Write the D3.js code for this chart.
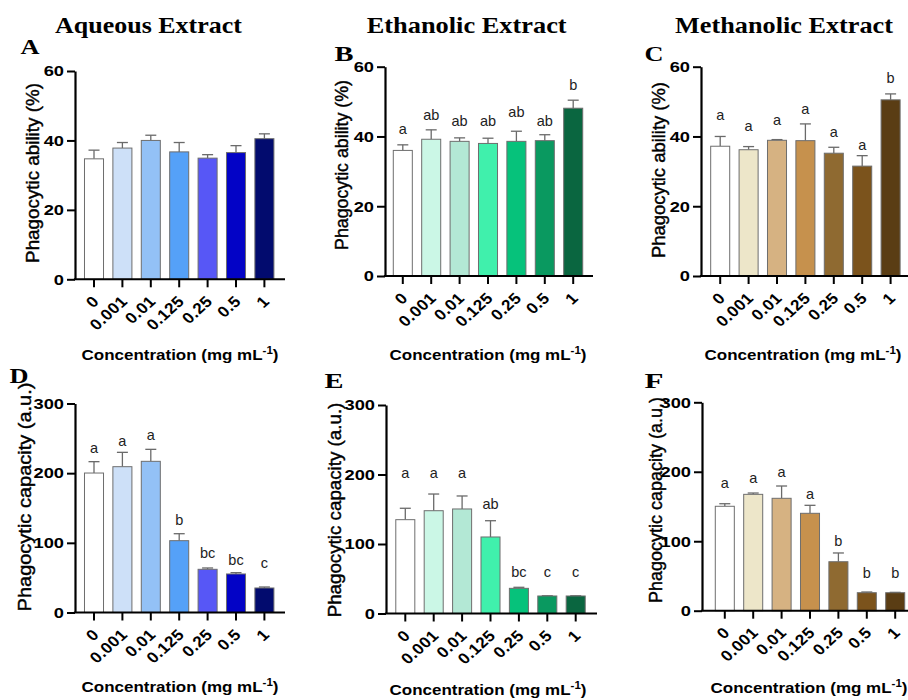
<!DOCTYPE html>
<html>
<head>
<meta charset="utf-8">
<script src="https://cdn.jsdelivr.net/npm/d3@7"></script>
<style>
  body { margin: 0; background: #fff; }
</style>
</head>
<body>
<script>
const concentrations = ["0", "0.001", "0.01", "0.125", "0.25", "0.5", "1"];

// phagocytic ability (%), mean and SEM
const abilityAqueous = [34.7, 37.8, 40.0, 36.7, 34.9, 36.5, 40.5];
const abilityAqueousErr = [2.5, 1.6, 1.5, 2.7, 1.0, 2.0, 1.4];
const abilityEthanolic = [36.0, 39.2, 38.6, 38.0, 38.6, 38.8, 48.1];
const abilityEthanolicErr = [1.6, 2.7, 1.0, 1.5, 2.9, 1.7, 2.3];
const abilityMethanolic = [37.2, 36.2, 38.9, 38.8, 35.2, 31.5, 50.5];
const abilityMethanolicErr = [2.8, 0.9, 0.2, 4.8, 1.7, 3.0, 1.7];

// phagocytic capacity (a.u.), mean and SEM
const capacityAqueous = [200.2, 209.3, 217.0, 103.1, 62.0, 55.3, 35.2];
const capacityAqueousErr = [16.3, 20.6, 17.2, 10.0, 1.9, 1.9, 1.4];
const capacityEthanolic = [135.0, 147.9, 150.4, 110.1, 36.2, 25.2, 25.2];
const capacityEthanolicErr = [16.4, 24.0, 18.7, 23.4, 1.5, 0.3, 0.3];
const capacityMethanolic = [150.3, 167.5, 161.8, 140.2, 70.5, 25.9, 25.9];
const capacityMethanolicErr = [3.7, 1.9, 17.7, 11.5, 12.6, 1.0, 0.5];

// significance letters, and the value each one is written at
const lettersB = ["a", "ab", "ab", "ab", "ab", "ab", "b"];
const lettersBAt = [42.3, 46.1, 44.5, 44.5, 47.0, 44.5, 54.7];
const lettersC = ["a", "a", "a", "a", "a", "a", "b"];
const lettersCAt = [46.3, 43.1, 44.6, 47.9, 41.2, 37.6, 56.7];
const lettersD = ["a", "a", "a", "b", "bc", "bc", "c"];
const lettersDAt = [235.7, 246.6, 255.2, 132.8, 85.0, 75.4, 70.6];
const lettersE = ["a", "a", "a", "ab", "bc", "c", "c"];
const lettersEAt = [202.6, 202.6, 202.6, 157.1, 59.3, 59.3, 59.3];
const lettersF = ["a", "a", "a", "a", "b", "b", "b"];
const lettersFAt = [183.4, 190.6, 200.1, 168.0, 100.8, 53.8, 53.8];

const abilityTicks = [0, 20, 40, 60];
const capacityTicks = [0, 100, 200, 300];

const blues = ["#ffffff", "#cde0f8", "#93c1f6", "#55a1f8", "#5757f6", "#0303c6", "#020b6e"];
const greens = ["#ffffff", "#cbf7e6", "#b3e8d5", "#40f0ac", "#06c27b", "#0a9960", "#0a6640"];
const browns = ["#ffffff", "#ede6c9", "#d6b282", "#c6914d", "#8f6a31", "#7b531c", "#5a3d14"];

const sans = "'Liberation Sans', Arial, sans-serif";
const serif = "'Liberation Serif', 'Times New Roman', serif";

const panels = [
  { tag: "A", tagX: 30, tagY: 54, vals: abilityAqueous, err: abilityAqueousErr, colors: blues,
    ymax: 60, ticks: abilityTicks, left: 75, top: 71, bottom: 279.3, off: 19, right: 285,
    ytitle: "Phagocytic ability (%)", ytX: 33, ytY: 173, ytLen: 180, cx: 180, cy: 360 },
  { tag: "B", tagX: 344, tagY: 61, vals: abilityEthanolic, err: abilityEthanolicErr, colors: greens,
    letters: lettersB, lettersAt: lettersBAt,
    ymax: 60, ticks: abilityTicks, left: 385, top: 66.7, bottom: 276, off: 17.8, right: 593,
    ytitle: "Phagocytic ability (%)", ytX: 341.5, ytY: 165, ytLen: 170, cx: 488, cy: 360 },
  { tag: "C", tagX: 654, tagY: 61, vals: abilityMethanolic, err: abilityMethanolicErr, colors: browns,
    letters: lettersC, lettersAt: lettersCAt,
    ymax: 60, ticks: abilityTicks, left: 701, top: 66.7, bottom: 276, off: 19.2, right: 908,
    ytitle: "Phagocytic ability (%)", ytX: 658.5, ytY: 170, ytLen: 176, cx: 803, cy: 360 },
  { tag: "D", tagX: 19, tagY: 383, vals: capacityAqueous, err: capacityAqueousErr, colors: blues,
    letters: lettersD, lettersAt: lettersDAt,
    ymax: 300, ticks: capacityTicks, left: 75, top: 403.5, bottom: 612.5, off: 19, right: 285,
    ytitle: "Phagocytic capacity (a.u.)", ytX: 25, ytY: 497, ytLen: 229, cx: 180, cy: 692 },
  { tag: "E", tagX: 334, tagY: 388, vals: capacityEthanolic, err: capacityEthanolicErr, colors: greens,
    letters: lettersE, lettersAt: lettersEAt,
    ymax: 300, ticks: capacityTicks, left: 386, top: 405, bottom: 613.5, off: 19.3, right: 597,
    ytitle: "Phagocytic capacity (a.u.)", ytX: 334.5, ytY: 510, ytLen: 215, cx: 488, cy: 695 },
  { tag: "F", tagX: 654, tagY: 388, vals: capacityMethanolic, err: capacityMethanolicErr, colors: browns,
    letters: lettersF, lettersAt: lettersFAt,
    ymax: 300, ticks: capacityTicks, left: 702, top: 402.3, bottom: 610.7, off: 22.8, right: 908,
    ytitle: "Phagocytic capacity (a.u.)", ytX: 656, ytY: 500, ytLen: 206, cx: 809, cy: 693 },
];

const columnTitles = [
  { text: "Aqueous Extract", x: 148.5, w: 187 },
  { text: "Ethanolic Extract", x: 466.7, w: 200 },
  { text: "Methanolic Extract", x: 784, w: 218 },
];

const svg = d3.select("body").append("svg")
  .attr("width", 908)
  .attr("height", 700)
  .style("background", "#fff");

// stretch a text horizontally (in its own frame) so it spans w pixels
const fitWidth = (sel, w) => {
  const len = sel.node().getComputedTextLength();
  sel.attr("transform", `scale(${w / len},1)`);
};

columnTitles.forEach((t) => {
  const g = svg.append("g").attr("transform", `translate(${t.x},33)`);
  const txt = g.append("text")
    .attr("text-anchor", "middle")
    .attr("font-family", serif)
    .attr("font-weight", "bold")
    .attr("font-size", 23)
    .attr("fill", "#000")
    .text(t.text);
  fitWidth(txt, t.w);
});

panels.forEach((p) => {
  const x = d3.scaleBand()
    .domain(concentrations)
    .range([p.left + p.off - 14.2, p.left + p.off - 14.2 + 7 * 28.4])
    .paddingInner(0.33)
    .paddingOuter(0.165);

  const y = d3.scaleLinear().domain([0, p.ymax]).range([p.bottom, p.top]);

  const rows = concentrations.map((c, i) => ({
    c, v: p.vals[i], e: p.err[i], color: p.colors[i],
    letter: p.letters ? p.letters[i] : null,
    at: p.lettersAt ? p.lettersAt[i] : null,
  }));

  const g = svg.append("g");

  // panel tag
  const tg = g.append("g").attr("transform", `translate(${p.tagX},${p.tagY})`);
  const tagText = tg.append("text")
    .attr("text-anchor", "middle")
    .attr("font-family", serif)
    .attr("font-weight", "bold")
    .attr("font-size", 21)
    .text(p.tag);
  fitWidth(tagText, 19);

  // error bars (drawn first, bars cover the lower part)
  const eb = g.append("g").attr("stroke", "#6a6a6a").attr("stroke-width", 1.3).attr("fill", "none");
  eb.selectAll("line.stem")
    .data(rows)
    .join("line")
    .attr("class", "stem")
    .attr("x1", (d) => x(d.c) + x.bandwidth() / 2)
    .attr("x2", (d) => x(d.c) + x.bandwidth() / 2)
    .attr("y1", (d) => y(d.v))
    .attr("y2", (d) => y(d.v + d.e));
  eb.selectAll("line.cap")
    .data(rows)
    .join("line")
    .attr("class", "cap")
    .attr("x1", (d) => x(d.c) + x.bandwidth() / 2 - 5.5)
    .attr("x2", (d) => x(d.c) + x.bandwidth() / 2 + 5.5)
    .attr("y1", (d) => y(d.v + d.e))
    .attr("y2", (d) => y(d.v + d.e));

  // bars
  g.selectAll("rect.bar")
    .data(rows)
    .join("rect")
    .attr("class", "bar")
    .attr("x", (d) => x(d.c))
    .attr("width", x.bandwidth())
    .attr("y", (d) => y(d.v))
    .attr("height", (d) => y(0) - y(d.v))
    .attr("fill", (d) => d.color)
    .attr("stroke", "#6e6e6e")
    .attr("stroke-width", 1);

  // letters
  if (p.letters) {
    g.selectAll("text.letter")
      .data(rows)
      .join("text")
      .attr("class", "letter")
      .attr("x", (d) => x(d.c) + x.bandwidth() / 2)
      .attr("y", (d) => y(d.at))
      .attr("dy", "0.35em")
      .attr("text-anchor", "middle")
      .attr("font-family", sans)
      .attr("font-size", 14.5)
      .attr("fill", "#222")
      .text((d) => d.letter);
  }

  // y axis
  const yAxis = d3.axisLeft(y).tickValues(p.ticks).tickSize(8).tickSizeOuter(0).tickPadding(3);
  const ya = g.append("g")
    .attr("transform", `translate(${p.left},0)`)
    .call(yAxis);
  ya.select(".domain").attr("stroke", "#000").attr("stroke-width", 2.2);
  ya.selectAll(".tick line").attr("stroke", "#000").attr("stroke-width", 2);
  ya.selectAll(".tick text")
    .attr("x", 0)
    .attr("transform", "translate(-11,0) scale(1.22,1)")
    .attr("font-family", sans)
    .attr("font-weight", "bold")
    .attr("font-size", 15)
    .attr("fill", "#000");

  // x axis: ticks from the band scale, base line drawn across the panel
  const xa = g.append("g")
    .attr("transform", `translate(0,${p.bottom})`)
    .call(d3.axisBottom(x).tickSize(8).tickFormat(""));
  xa.select(".domain").remove();
  xa.selectAll(".tick line").attr("stroke", "#000").attr("stroke-width", 2);

  g.append("line")
    .attr("x1", p.left - 1.1)
    .attr("x2", p.right)
    .attr("y1", p.bottom)
    .attr("y2", p.bottom)
    .attr("stroke", "#000")
    .attr("stroke-width", 2);

  g.selectAll("text.xlab")
    .data(rows)
    .join("text")
    .attr("class", "xlab")
    .attr("transform", (d) =>
      `translate(${x(d.c) + x.bandwidth() / 2 + 6},${p.bottom + 23}) scale(1.1,1) rotate(-45)`)
    .attr("text-anchor", "end")
    .attr("font-family", sans)
    .attr("font-weight", "bold")
    .attr("font-size", 15.5)
    .attr("letter-spacing", 0.4)
    .attr("fill", "#000")
    .text((d) => d.c);

  // y title (slightly heavier than regular, as in the figure)
  const yt = g.append("g").attr("transform", `translate(${p.ytX},${p.ytY}) rotate(-90)`);
  const ytText = yt.append("text")
    .attr("text-anchor", "middle")
    .attr("dy", "0.35em")
    .attr("font-family", sans)
    .attr("font-size", 17.5)
    .attr("fill", "#000")
    .attr("stroke", "#000")
    .attr("stroke-width", 0.4)
    .text(p.ytitle);
  fitWidth(ytText, p.ytLen);

  // x title
  const xt = g.append("g").attr("transform", `translate(${p.cx},${p.cy})`);
  const xtText = xt.append("text")
    .attr("text-anchor", "middle")
    .attr("font-family", sans)
    .attr("font-weight", "bold")
    .attr("font-size", 15.5)
    .attr("fill", "#000");
  xtText.append("tspan").text("Concentration (mg mL");
  xtText.append("tspan").attr("font-size", 10.5).attr("dy", -6.5).text("-1");
  xtText.append("tspan").attr("dy", 6.5).text(")");
  fitWidth(xtText, 197);
});
</script>
</body>
</html>
